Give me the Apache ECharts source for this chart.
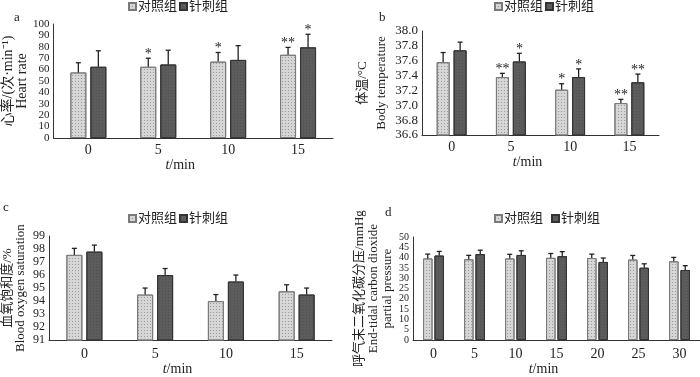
<!DOCTYPE html>
<html>
<head>
<meta charset="utf-8">
<script src="https://cdn.jsdelivr.net/npm/echarts@6/dist/echarts.min.js"></script>
<style>
  html, body { margin: 0; padding: 0; background: #fff; }
  #chart { width: 700px; height: 377px; }
</style>
</head>
<body>
<div id="chart"></div>
<script>
// categories
const times4 = ['0', '5', '10', '15'];
const times7 = ['0', '5', '10', '15', '20', '25', '30'];

// a: heart rate
const hrCtrl = [57.5, 62.5, 67, 73];
const hrCtrlSd = [8.5, 7.5, 8, 6.5];
const hrCtrlSig = ['', '*', '*', '**'];
const hrAcu = [62.5, 64.5, 68.5, 79.5];
const hrAcuSd = [14, 12.5, 12.5, 11.5];
const hrAcuSig = ['', '', '', '*'];

// b: body temperature
const tCtrl = [37.58, 37.38, 37.21, 37.03];
const tCtrlSd = [0.13, 0.05, 0.08, 0.05];
const tCtrlSig = ['', '**', '*', '**'];
const tAcu = [37.74, 37.59, 37.38, 37.31];
const tAcuSd = [0.11, 0.11, 0.11, 0.11];
const tAcuSig = ['', '*', '*', '**'];

// c: blood oxygen saturation
const spCtrl = [97.55, 94.5, 94.0, 94.75];
const spCtrlSd = [0.5, 0.5, 0.5, 0.5];
const spAcu = [97.8, 96.0, 95.5, 94.5];
const spAcuSd = [0.5, 0.5, 0.5, 0.5];

// d: end-tidal CO2
const coCtrl = [39.6, 39.2, 39.6, 39.9, 39.8, 39.05, 38.2];
const coCtrlSd = [2.1, 1.9, 2.0, 2.1, 1.9, 2.0, 1.9];
const coAcu = [41.0, 41.7, 41.3, 40.7, 37.9, 35.1, 34.0];
const coAcuSd = [2.0, 1.9, 2.0, 2.2, 1.9, 1.9, 2.1];

const serif = 'Liberation Serif, Noto Sans CJK SC';
const txt = '#222';

const ctrlStyle = {
  color: '#d6d6d6', borderColor: '#7a7a7a', borderWidth: 1,
  decal: { symbol: 'rect', symbolSize: 1, dashArrayX: [1, 2], dashArrayY: [1, 2], color: '#9a9a9a' }
};
const acuStyle = {
  color: '#5c5c5c', borderColor: '#333', borderWidth: 1,
  decal: { symbol: 'rect', symbolSize: 1, dashArrayX: [1, 2], dashArrayY: [1, 2], color: '#505050' }
};

function errBar(sig, shift) {
  return function (params, api) {
    const i = api.value(0), m = api.value(1), s = api.value(2);
    const base = api.coord([i, m]);
    const top = api.coord([i, m + s]);
    const x = base[0] + shift;
    const st = { stroke: '#222', lineWidth: 1.3 };
    const children = [
      { type: 'line', shape: { x1: x, y1: base[1], x2: x, y2: top[1] }, style: st },
      { type: 'line', shape: { x1: x - 2.5, y1: top[1], x2: x + 2.5, y2: top[1] }, style: st }
    ];
    if (sig && sig[params.dataIndex]) {
      children.push({
        type: 'text', x: x, y: top[1] + 3,
        style: { text: sig[params.dataIndex], align: 'center', verticalAlign: 'bottom', font: '14px Liberation Serif', fill: txt }
      });
    }
    return { type: 'group', children: children };
  };
}

function pairs(v, sd) { return v.map((d, i) => [i, d, sd[i]]); }

function xAx(idx, cats, margin, gap) {
  return {
    type: 'category', gridIndex: idx, data: cats,
    axisLine: { lineStyle: { color: '#333', width: 1 } },
    axisTick: { show: false },
    axisLabel: { color: txt, fontFamily: serif, fontSize: 14, margin: margin },
    name: '{i|t}/min', nameLocation: 'middle', nameGap: gap,
    nameTextStyle: {
      color: txt, fontFamily: serif, fontSize: 14, padding: [0, 26, 0, 0],
      rich: { i: { fontStyle: 'italic', fontFamily: serif, fontSize: 14, color: txt } }
    }
  };
}

function yAx(idx, min, max, step, fs, name, gap, lh, nfs, dec) {
  return {
    type: 'value', gridIndex: idx, min: min, max: max, interval: step,
    axisLine: { show: true, lineStyle: { color: '#333', width: 1 } },
    axisTick: { show: false },
    splitLine: { show: false },
    axisLabel: {
      color: txt, fontFamily: serif, fontSize: fs, lineHeight: fs - 2, margin: 4,
      showMinLabel: true, showMaxLabel: true, hideOverlap: false,
      formatter: v => dec ? v.toFixed(dec) : String(Math.round(v))
    },
    name: name, nameLocation: 'middle', nameGap: gap, nameRotate: 90,
    nameTextStyle: { color: txt, fontFamily: serif, fontSize: nfs, lineHeight: lh }
  };
}

function legendAt(left, top, gap) {
  return {
    left: left, top: top, padding: 0, itemWidth: 7, itemHeight: 7, itemGap: gap, icon: 'rect',
    data: ['对照组', '针刺组'],
    textStyle: { color: txt, fontFamily: serif, fontSize: 13, padding: [0, 0, 0, -3] }
  };
}

function barPair(idx, ctrl, acu, bw, gapPct) {
  return [
    { name: '对照组', type: 'bar', xAxisIndex: idx, yAxisIndex: idx, data: ctrl, barWidth: bw, barGap: gapPct, itemStyle: ctrlStyle },
    { name: '针刺组', type: 'bar', xAxisIndex: idx, yAxisIndex: idx, data: acu, barWidth: bw, barGap: gapPct, itemStyle: acuStyle }
  ];
}

function errPair(idx, ctrl, ctrlSd, ctrlSig, acu, acuSd, acuSig, shift) {
  return [
    { type: 'custom', xAxisIndex: idx, yAxisIndex: idx, z: 5, data: pairs(ctrl, ctrlSd), renderItem: errBar(ctrlSig, -shift) },
    { type: 'custom', xAxisIndex: idx, yAxisIndex: idx, z: 5, data: pairs(acu, acuSd), renderItem: errBar(acuSig, shift) }
  ];
}

const chart = echarts.init(document.getElementById('chart'));

const option = {
  animation: false,
  backgroundColor: '#fff',
  grid: [
    { left: 53, top: 24, width: 280, height: 114 },
    { left: 422, top: 31, width: 237, height: 104 },
    { left: 47, top: 236, width: 285, height: 112 },
    { left: 413, top: 237, width: 289, height: 112 }
  ],
  legend: [
    legendAt(128, 0, 2),
    legendAt(494, 0, 2),
    legendAt(128, 212, 2),
    legendAt(494, 212, 8)
  ],
  xAxis: [
    xAx(0, times4, 5, 19),
    xAx(1, times4, 5, 19),
    xAx(2, times4, 7, 20),
    xAx(3, times7, 7, 20)
  ],
  yAxis: [
    yAx(0, 0, 100, 10, 11, '心率/(次·min⁻¹)\nHeart rate', 17, 14, 14, 0),
    yAx(1, 36.6, 38.0, 0.2, 13, '体温/°C\nBody temperature', 30, 19, 13, 1),
    yAx(2, 91, 99, 1, 12, '血氧饱和度/%\nBlood oxygen saturation', 22, 13, 13, 0),
    yAx(3, 0, 50, 5, 10, '呼气末二氧化碳分压/mmHg\nEnd-tidal carbon dioxide\npartial pressure', 18, 14, 13, 0)
  ],
  graphic: [
    { type: 'text', left: 14, top: 11, style: { text: 'a', font: '13px Liberation Serif', fill: txt } },
    { type: 'text', left: 379, top: 11, style: { text: 'b', font: '13px Liberation Serif', fill: txt } },
    { type: 'text', left: 3, top: 201, style: { text: 'c', font: '13px Liberation Serif', fill: txt } },
    { type: 'text', left: 385, top: 206, style: { text: 'd', font: '13px Liberation Serif', fill: txt } }
  ],
  series: [].concat(
    barPair(0, hrCtrl, hrAcu, 16, '25%'),
    barPair(1, tCtrl, tAcu, 13, '30%'),
    barPair(2, spCtrl, spAcu, 16, '25%'),
    barPair(3, coCtrl, coAcu, 9.5, '20%'),
    errPair(0, hrCtrl, hrCtrlSd, hrCtrlSig, hrAcu, hrAcuSd, hrAcuSig, 10),
    errPair(1, tCtrl, tCtrlSd, tCtrlSig, tAcu, tAcuSd, tAcuSig, 8.5),
    errPair(2, spCtrl, spCtrlSd, null, spAcu, spAcuSd, null, 10),
    errPair(3, coCtrl, coCtrlSd, null, coAcu, coAcuSd, null, 5.75)
  )
};

chart.setOption(option);
</script>
</body>
</html>
